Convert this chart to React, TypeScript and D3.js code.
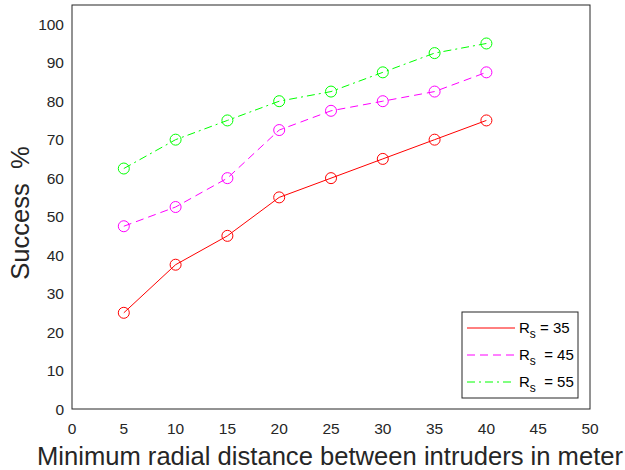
import React from 'react';
import * as d3 from 'd3';

const distances = [5, 10, 15, 20, 25, 30, 35, 40];
const rs35 = [25, 37.5, 45, 55, 60, 65, 70, 75];
const rs45 = [47.5, 52.5, 60, 72.5, 77.5, 80, 82.5, 87.5];
const rs55 = [62.5, 70, 75, 80, 82.5, 87.5, 92.5, 95];
const xTicks = [0, 5, 10, 15, 20, 25, 30, 35, 40, 45, 50];
const yTicks = [0, 10, 20, 30, 40, 50, 60, 70, 80, 90, 100];
const seriesNames = ['35', '45', '55'];

const series = [
  { name: seriesNames[0], values: rs35, color: '#ff0000', dash: null, gap: ' ' },
  { name: seriesNames[1], values: rs45, color: '#ff00ff', dash: '8,5', gap: '  ' },
  { name: seriesNames[2], values: rs55, color: '#00ff00', dash: '8,4,2,4', gap: '  ' },
];

const W = 625;
const H = 470;
const m = { left: 72, right: 35, top: 5, bottom: 61 };
const ink = '#262626';
const font = '"Liberation Sans", Arial, Helvetica, sans-serif';

export default function App() {
  const x = d3.scaleLinear().domain([0, 50]).range([m.left, W - m.right]);
  const y = d3.scaleLinear().domain([0, 105]).range([H - m.bottom, m.top]);
  const line = d3.line<number>()
    .x((_, i) => x(distances[i]))
    .y(d => y(d));

  const lgX = 462, lgY = 312, lgW = 116, lgH = 86;

  return (
    <svg width={W} height={H} style={{ position: 'absolute', left: 0, top: 0, background: '#fff' }}
      fontFamily={font}>
      <rect x={m.left} y={m.top} width={W - m.left - m.right} height={H - m.top - m.bottom}
        fill="none" stroke={ink} strokeWidth={1} />
      {xTicks.map(t => (
        <text key={'x' + t} x={x(t)} y={H - m.bottom + 25} textAnchor="middle" fontSize={15.5} fill={ink}>{t}</text>
      ))}
      {yTicks.map(t => (
        <text key={'y' + t} x={m.left - 8} y={y(t) + 5.5} textAnchor="end" fontSize={15.5} fill={ink}>{t}</text>
      ))}
      <text x={(38 + 622) / 2} y={465} textAnchor="middle" fontSize={25.6} fill={ink}>
        Minimum radial distance between intruders in meter
      </text>
      <text transform={`translate(29,213) rotate(-90)`} textAnchor="middle" fontSize={25.6} fill={ink}
        style={{ whiteSpace: 'pre' }}>{'Success  %'}</text>
      {series.map(s => (
        <g key={s.name}>
          <path d={line(s.values) || ''} fill="none" stroke={s.color} strokeWidth={1}
            strokeDasharray={s.dash || undefined} />
          {s.values.map((v, i) => (
            <circle key={i} cx={x(distances[i])} cy={y(v)} r={5.5} fill="none" stroke={s.color} strokeWidth={1} />
          ))}
        </g>
      ))}
      <rect x={lgX} y={lgY} width={lgW} height={lgH} fill="#fff" stroke={ink} strokeWidth={1} />
      {series.map((s, i) => {
        const ly = lgY + 16 + i * 27;
        return (
          <g key={'lg' + s.name}>
            <line x1={lgX + 5} x2={lgX + 53} y1={ly} y2={ly} stroke={s.color} strokeWidth={1}
              strokeDasharray={s.dash || undefined} />
            <text x={lgX + 57} y={ly + 5} fontSize={15} fill="#000" style={{ whiteSpace: 'pre' }}>
              R<tspan fontSize={12} dy={5}>s</tspan><tspan dy={-5}>{s.gap + '= ' + s.name}</tspan>
            </text>
          </g>
        );
      })}
    </svg>
  );
}
